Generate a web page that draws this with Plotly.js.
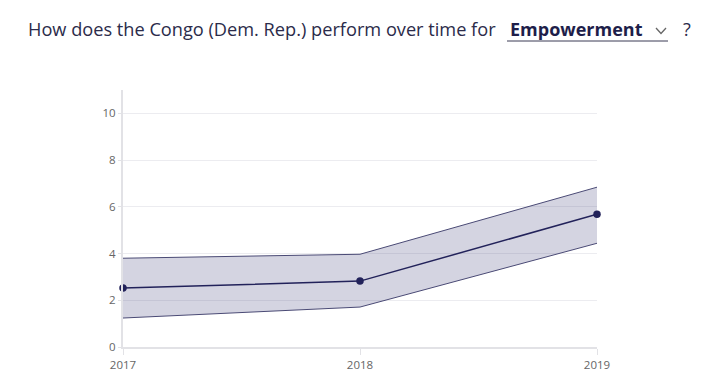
<!DOCTYPE html>
<html><head><meta charset="utf-8">
<script src="https://cdn.plot.ly/plotly-3.0.1.min.js"></script>
<style>html,body{margin:0;padding:0;background:#fff;}#chart{width:720px;height:392px;}</style>
</head><body><div id="chart"></div>
<script>
const years = [2017, 2018, 2019];
const score = [2.52, 2.82, 5.68];
const upper = [3.80, 3.97, 6.84];
const lower = [1.24, 1.71, 4.44];
const yTicks = [0, 2, 4, 6, 8, 10];
const metric = "Empowerment";
const country = "Congo (Dem. Rep.)";

const band = 'rgba(60,60,120,0.22)';
const edge = '#4a4a75';
const navy = '#22225a';

const data = [
  {x: years, y: lower, type: 'scatter', mode: 'lines', line: {color: edge, width: 1}, hoverinfo: 'skip', showlegend: false, cliponaxis: false},
  {x: years, y: upper, type: 'scatter', mode: 'lines', fill: 'tonexty', fillcolor: band, line: {color: edge, width: 1}, hoverinfo: 'skip', showlegend: false, cliponaxis: false},
  {x: years, y: score, type: 'scatter', mode: 'lines+markers', line: {color: navy, width: 1.5}, marker: {color: navy, size: 7.5}, showlegend: false, cliponaxis: false}
];

const pw = 474, ph = 257;
function px(x){ return (x - 123) / pw; }
function py(y){ return (347 - y) / ph; }

const layout = {
  width: 720, height: 392,
  margin: {l: 123, r: 123, t: 90, b: 45},
  paper_bgcolor: '#fff', plot_bgcolor: '#fff',
  font: {family: '"Open Sans", sans-serif', color: '#666'},
  xaxis: {range: [2017, 2019], tickvals: years, ticktext: years.map(String), showgrid: false, zeroline: false,
          showline: true, linecolor: '#e2e2e6', linewidth: 2, ticks: 'outside', ticklen: 6, tickcolor: '#e2e2e6',
          tickfont: {size: 11.5, color: '#666'}, fixedrange: true},
  yaxis: {range: [0, 11], tickvals: yTicks, showgrid: true, gridcolor: '#ececf0', zeroline: false,
          showline: true, linecolor: '#e2e2e6', linewidth: 2, ticks: 'outside', ticklen: 3, tickcolor: '#e2e2e6',
          tickfont: {size: 11.5, color: '#666'}, fixedrange: true},
  annotations: [
    {xref: 'paper', yref: 'paper', x: px(26), y: py(29), xanchor: 'left', yanchor: 'middle', showarrow: false,
     text: 'How does the ' + country + ' perform over time for', font: {family: '"Open Sans", sans-serif', size: 18.2, color: '#2b2b4a'}},
    {xref: 'paper', yref: 'paper', x: px(508), y: py(29), xanchor: 'left', yanchor: 'middle', showarrow: false,
     text: '<b>' + metric + '</b>', font: {family: '"Open Sans", sans-serif', size: 18, color: '#1e1e4a'}},
    {xref: 'paper', yref: 'paper', x: px(681), y: py(29), xanchor: 'left', yanchor: 'middle', showarrow: false,
     text: '?', font: {family: '"Open Sans", sans-serif', size: 18, color: '#2b2b4a'}}
  ],
  shapes: [
    {type: 'line', xref: 'paper', yref: 'paper', x0: px(507), x1: px(668), y0: py(41), y1: py(41), line: {color: '#3a3a55', width: 1}},
    {type: 'path', xref: 'paper', yref: 'paper',
     path: 'M ' + px(656) + ' ' + py(28) + ' L ' + px(661) + ' ' + py(33.5) + ' L ' + px(666) + ' ' + py(28),
     line: {color: '#666', width: 1.3}}
  ]
};
Plotly.newPlot('chart', data, layout, {displayModeBar: false, staticPlot: true});
</script></body></html>
